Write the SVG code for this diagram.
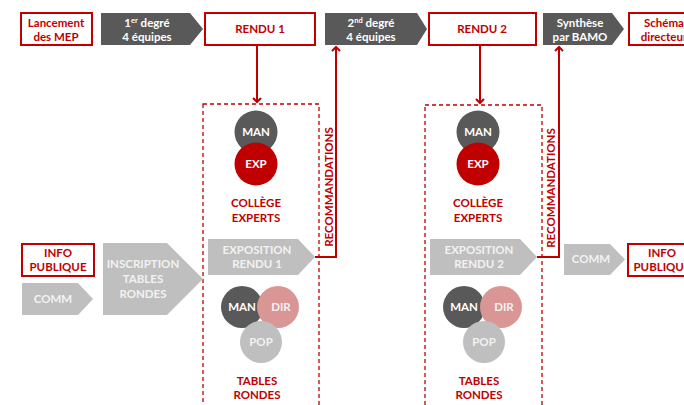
<svg xmlns="http://www.w3.org/2000/svg" width="684" height="405" viewBox="0 0 684 405">
<defs>
<style>
text{font-family:Lato,"Liberation Sans",sans-serif;font-weight:bold;font-size:11.5px;text-anchor:middle}
.rb{fill:#fff;stroke:#c00000;stroke-width:2}
.rt{fill:#c00000}
.wt{fill:#fff}
.dk{fill:#595959}
.lg{fill:#bfbfbf}
.lgt{fill:#f2f2f2}
.dash{fill:none;stroke:#c00000;stroke-width:1.3;stroke-dasharray:4 3}
.con{fill:none;stroke:#c00000;stroke-width:2}
</style>
<marker id="ah" markerWidth="10" markerHeight="10" refX="5" refY="5" orient="auto" markerUnits="userSpaceOnUse" viewBox="0 0 10 10">
<path d="M1,1 L5,5 L1,9" fill="none" stroke="#c00000" stroke-width="2"/>
</marker>
</defs>
<rect width="684" height="405" fill="#fff"/>

<g id="dashbox1"><rect class="dash" x="203" y="104" width="116" height="320"/></g>
<g id="dashbox2"><rect class="dash" x="425" y="105" width="117" height="320"/></g>

<g id="lancement"><rect class="rb" x="21" y="13" width="71" height="32"/>
<text class="rt" x="56" y="27">Lancement</text><text class="rt" x="56" y="41">des MEP</text></g>
<g id="degre1"><polygon class="dk" points="101,13 190,13 203,29 190,45 101,45"/>
<text class="wt" x="147" y="27">1<tspan font-size="7.5" dy="-4">er</tspan><tspan dy="4"> degré</tspan></text><text class="wt" x="147" y="41">4 équipes</text></g>
<g id="rendu1"><rect class="rb" x="205" y="13" width="110" height="32"/><text class="rt" x="260" y="33">RENDU 1</text></g>
<g id="degre2"><polygon class="dk" points="325,13 417,13 427,29 417,45 325,45"/>
<text class="wt" x="371" y="27">2<tspan font-size="7.5" dy="-4">nd</tspan><tspan dy="4"> degré</tspan></text><text class="wt" x="371" y="41">4 équipes</text></g>
<g id="rendu2"><rect class="rb" x="429" y="13" width="107" height="32"/><text class="rt" x="482" y="33">RENDU 2</text></g>
<g id="synthese"><polygon class="dk" points="543,13 612,13 624,29 612,45 543,45"/>
<text class="wt" x="580" y="27">Synthèse</text><text class="wt" x="580" y="41">par BAMO</text></g>
<g id="schema"><rect class="rb" x="629" y="13" width="70" height="32"/>
<text class="rt" x="664" y="27">Schéma</text><text class="rt" x="664" y="41">directeur</text></g>

<g id="college1">
<circle cx="256" cy="132" r="21.5" fill="#595959"/><text class="wt" x="256" y="136">MAN</text>
<circle cx="256" cy="164" r="21.5" fill="#c00000"/><text class="wt" x="256" y="168">EXP</text>
<text class="rt" x="256" y="207">COLLÈGE</text><text class="rt" x="256" y="222">EXPERTS</text></g>
<g id="college2">
<circle cx="478" cy="132" r="21.5" fill="#595959"/><text class="wt" x="478" y="136">MAN</text>
<circle cx="478" cy="164" r="21.5" fill="#c00000"/><text class="wt" x="478" y="168">EXP</text>
<text class="rt" x="478" y="207">COLLÈGE</text><text class="rt" x="478" y="222">EXPERTS</text></g>

<g id="info1"><rect class="rb" x="22" y="244" width="72" height="32"/>
<text class="rt" x="58" y="257">INFO</text><text class="rt" x="58" y="271">PUBLIQUE</text></g>
<g id="comm1"><polygon class="lg" points="22,283 78,283 93,299 78,315 22,315"/><text class="lgt" x="53" y="303">COMM</text></g>
<g id="inscription"><polygon class="lg" points="103,243 167,243 203,279 167,315 103,315"/>
<text class="lgt" x="143" y="268">INSCRIPTION</text><text class="lgt" x="143" y="283">TABLES</text><text class="lgt" x="143" y="298">RONDES</text></g>
<g id="expo1"><polygon class="lg" points="208,239 298,239 315,257 298,275 208,275"/>
<text class="lgt" x="257" y="254">EXPOSITION</text><text class="lgt" x="257" y="268">RENDU 1</text></g>
<g id="tables1">
<circle cx="242" cy="307" r="21" fill="#595959"/>
<circle cx="278" cy="307" r="21" fill="#d99694"/>
<circle cx="261" cy="342" r="21" fill="#bfbfbf"/>
<text class="wt" x="242" y="311">MAN</text><text class="lgt" x="281" y="311">DIR</text><text class="lgt" x="261" y="346">POP</text>
<text class="rt" x="257" y="385">TABLES</text><text class="rt" x="257" y="399">RONDES</text></g>

<g id="expo2"><polygon class="lg" points="430,239 520,239 537,257 520,275 430,275"/>
<text class="lgt" x="479" y="254">EXPOSITION</text><text class="lgt" x="479" y="268">RENDU 2</text></g>
<g id="tables2">
<circle cx="464" cy="307" r="21" fill="#595959"/>
<circle cx="501" cy="307" r="21" fill="#d99694"/>
<circle cx="484" cy="342" r="21" fill="#bfbfbf"/>
<text class="wt" x="464" y="311">MAN</text><text class="lgt" x="504" y="311">DIR</text><text class="lgt" x="484" y="346">POP</text>
<text class="rt" x="479" y="385">TABLES</text><text class="rt" x="479" y="399">RONDES</text></g>
<g id="comm2"><polygon class="lg" points="564,244 610,244 625,259.5 610,275 564,275"/><text class="lgt" x="591" y="263">COMM</text></g>
<g id="info2"><rect class="rb" x="628" y="244" width="72" height="32"/>
<text class="rt" x="662" y="257">INFO</text><text class="rt" x="662" y="271">PUBLIQUE</text></g>

<g id="connectors">
<path class="con" d="M257,45 V102" marker-end="url(#ah)"/>
<path class="con" d="M480,45 V103" marker-end="url(#ah)"/>
<path class="con" d="M315,257 H336 V47" marker-end="url(#ah)"/>
<path class="con" d="M537,257 H559 V47" marker-end="url(#ah)"/>
<text class="rt" transform="translate(333,187) rotate(-90)" font-size="11">RECOMMANDATIONS</text>
<text class="rt" transform="translate(555,188) rotate(-90)" font-size="11">RECOMMANDATIONS</text>
</g>
</svg>
